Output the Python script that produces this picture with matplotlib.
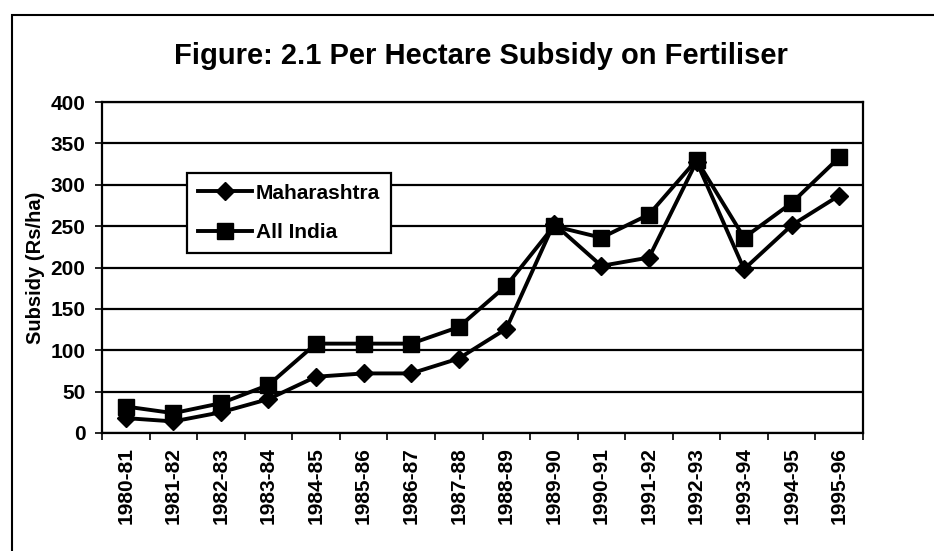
import matplotlib.pyplot as plt
from matplotlib.patches import Rectangle

plt.rcParams['font.family'] = ['Liberation Sans', 'DejaVu Sans']

years = ['1980-81', '1981-82', '1982-83', '1983-84', '1984-85', '1985-86',
         '1986-87', '1987-88', '1988-89', '1989-90', '1990-91', '1991-92',
         '1992-93', '1993-94', '1994-95', '1995-96']
maharashtra = [18, 14, 25, 41, 68, 72, 72, 90, 126, 253, 202, 212, 328, 198, 251, 287]
all_india = [32, 24, 36, 58, 108, 108, 108, 128, 178, 250, 236, 264, 330, 236, 278, 333]

fig = plt.figure(figsize=(9.34, 5.51), dpi=100)
# page frame, only top and left edges show in the crop
fig.patches.append(Rectangle((12 / 934, -0.1), 1.2, 1.1 - 15 / 551,
                             transform=fig.transFigure, fill=False,
                             edgecolor='black', linewidth=1.5))

ax = fig.add_axes([102 / 934, 1 - 433 / 551, 761 / 934, 331 / 551])
x = range(len(years))
ax.plot(x, maharashtra, color='black', lw=2.8, marker='D', markersize=9,
        label='Maharashtra')
ax.plot(x, all_india, color='black', lw=2.8, marker='s', markersize=12,
        label='All India')

ax.set_xlim(-0.5, len(years) - 0.5)
ax.set_ylim(0, 400)
ax.set_yticks(range(0, 401, 50))
ax.set_yticklabels([str(v) for v in range(0, 401, 50)], fontsize=15,
                   fontweight='bold')
ax.set_xticks(x)
ax.set_xticklabels(years, rotation=90, fontsize=15, fontweight='bold')
ax.tick_params(axis='x', length=0, pad=10)
ax.set_xticks([i - 0.5 for i in range(len(years) + 1)], minor=True)
ax.tick_params(axis='x', which='minor', length=5, width=1.2, direction='out')
ax.tick_params(axis='y', length=5, width=1.2, pad=7)
ax.grid(axis='y', color='black', lw=1.6)
for s in ax.spines.values():
    s.set_linewidth(1.6)
ax.set_ylabel('Subsidy (Rs/ha)', fontsize=14.5, fontweight='bold', labelpad=4)

leg = ax.legend(loc='upper left', bbox_to_anchor=(0.112, 0.785),
                fancybox=False, edgecolor='black', framealpha=1,
                prop={'weight': 'bold', 'size': 15}, handlelength=2.6,
                borderpad=0.5, labelspacing=1.0, handletextpad=0.2,
                borderaxespad=0)
leg.get_frame().set_linewidth(1.6)

fig.text(481 / 934, 1 - 56 / 551, 'Figure: 2.1 Per Hectare Subsidy on Fertiliser',
         ha='center', va='center', fontsize=21, fontweight='bold')

fig.savefig('out.png', dpi=100)
